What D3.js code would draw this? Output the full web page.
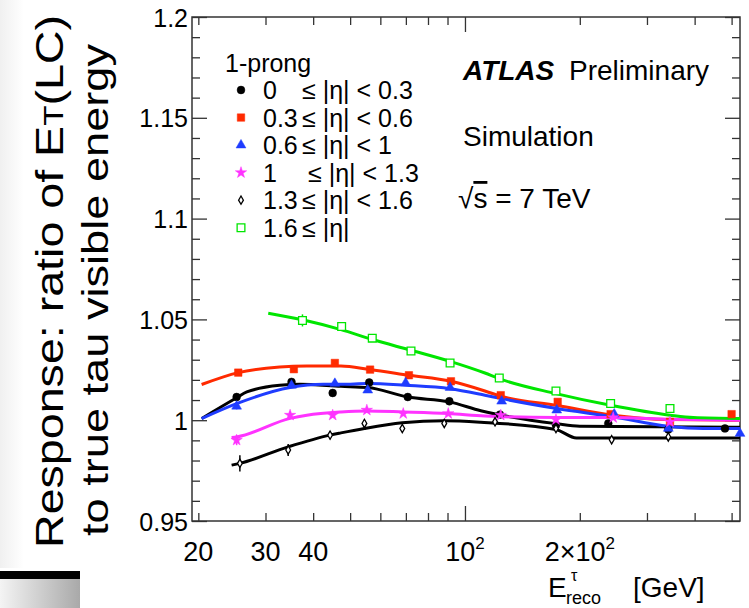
<!DOCTYPE html>
<html><head><meta charset="utf-8">
<script src="https://cdn.jsdelivr.net/npm/d3@7"></script>
<style>
body{margin:0;background:#fff}
svg{display:block}
text{font-family:"Liberation Sans",Arial,Helvetica,sans-serif;fill:#000}
</style>
</head><body>
<svg id="c" width="749" height="608"></svg>
<script>
// ---------- data ----------
const seriesNames = ["0 ≤|η|< 0.3","0.3 ≤|η|< 0.6","0.6 ≤|η|< 1","1 ≤|η|< 1.3","1.3 ≤|η|< 1.6","1.6 ≤|η|"];
const legendLead = ["0","0.3","0.6","1","1.3","1.6"];
const legendRest = ["≤ |η| < 0.3","≤ |η| < 0.6","≤ |η| < 1","≤ |η| < 1.3","≤ |η| < 1.6","≤ |η|"];

// points (E_reco [GeV], response) and errors
const xA = [25.2, 35.1, 45.0, 56.1, 70.8, 91.0, 123.5, 173.2, 237.5, 341.2, 480.3];
const yA = [1.0115, 1.0190, 1.0135, 1.0187, 1.0115, 1.0094, 1.0028, 0.9975, 0.9984, 0.9954, 0.9959];
const eA = [0.0015, 0.0012, 0.0010, 0.0012, 0.0010, 0.0010, 0.0010, 0.0010, 0.0012, 0.0012, 0.0012];

const xB = [25.45, 35.6, 45.6, 56.4, 71.3, 91.9, 124.1, 175.0, 240.9, 344.7, 500.0];
const yB = [1.0236, 1.0253, 1.0284, 1.0251, 1.0223, 1.0193, 1.0124, 1.0091, 1.0030, 0.9992, 1.0030];
const eB = [0.0012, 0.0010, 0.0010, 0.0012, 0.0010, 0.0010, 0.0010, 0.0010, 0.0012, 0.0012, 0.0012];

const xC = [25.2, 35.1, 45.6, 55.6, 69.9, 91.4, 124.8, 174.0, 246.2, 341.2, 526.0];
const yC = [1.0069, 1.0173, 1.0182, 1.0149, 1.0185, 1.0162, 1.0094, 1.0050, 1.0030, 0.9959, 0.9934];
const eC = [0.0015, 0.0012, 0.0010, 0.0012, 0.0010, 0.0010, 0.0010, 0.0010, 0.0012, 0.0012, 0.0012];

const xD = [25.2, 34.8, 45.0, 55.3, 68.9, 90.4, 124.1, 173.2, 244.7, 344.7];
const yD = [0.9901, 1.0025, 1.0025, 1.0050, 1.0033, 1.0033, 1.0025, 1.0003, 1.0013, 0.9992];
const eD = [0.0025, 0.0020, 0.0012, 0.0012, 0.0010, 0.0010, 0.0010, 0.0010, 0.0012, 0.0012];

const xE = [25.7, 34.4, 44.3, 54.5, 68.5, 88.25, 119.9, 173.2, 242.4, 341.2];
const yE = [0.9786, 0.9852, 0.9926, 0.9984, 0.9959, 0.9984, 0.9992, 0.9959, 0.9903, 0.9917];
const eE = [0.0040, 0.0030, 0.0020, 0.0018, 0.0015, 0.0015, 0.0012, 0.0012, 0.0015, 0.0015];

const xF = [37.5, 47.5, 57.15, 72.2, 91.4, 123.0, 173.2, 240.9, 344.7];
const yF = [1.0495, 1.0465, 1.0407, 1.0343, 1.0284, 1.0209, 1.0145, 1.0083, 1.0058];
const eF = [0.0030, 0.0015, 0.0012, 0.0010, 0.0010, 0.0010, 0.0010, 0.0010, 0.0012];

// fitted curves
const fAx = [20.4, 25.2, 26.8, 32.7, 36.9, 47.3, 55.6, 70.8, 91.0, 110, 173.2, 200, 526];
const fAy = [1.0008, 1.0111, 1.0140, 1.0173, 1.0178, 1.0168, 1.0162, 1.0115, 1.0091, 1.0047, 0.9983, 0.9970, 0.9965];
const fBx = [20.4, 25.45, 32.7, 38.5, 47.3, 56.4, 71.3, 91.9, 112.8, 124.1, 175, 241, 345, 526];
const fBy = [1.0177, 1.0236, 1.0264, 1.0269, 1.0269, 1.0251, 1.0223, 1.0193, 1.0145, 1.0119, 1.0073, 1.0026, 1.0003, 1.0000];
const fCx = [20.4, 25.2, 34.8, 42.5, 47.3, 55.6, 69.9, 91.4, 112.8, 124.8, 174, 246, 341, 421, 526];
const fCy = [1.0008, 1.0082, 1.0162, 1.0178, 1.0178, 1.0182, 1.0173, 1.0156, 1.0124, 1.0107, 1.0058, 1.0016, 0.9970, 0.9959, 0.9959];
const fDx = [24.45, 25.2, 34.8, 38.5, 47.3, 55.3, 68.9, 90.4, 112.8, 174, 241, 345, 526];
const fDy = [0.9914, 0.9917, 1.0009, 1.0025, 1.0041, 1.0046, 1.0041, 1.0033, 1.0021, 1.0013, 1.0013, 1.0005, 1.0000];
const fEx = [24.45, 25.7, 34.4, 44.3, 47.3, 54.5, 68.5, 88.25, 110, 173.2, 196, 526];
const fEy = [0.9777, 0.9786, 0.9868, 0.9926, 0.9937, 0.9959, 0.9987, 0.9997, 0.9990, 0.9954, 0.9912, 0.9912];
const fFx = [30.5, 37.5, 47.3, 57.15, 72.2, 91.4, 112.8, 123, 173.2, 240.9, 344.7, 396.7, 526];
const fFy = [1.0531, 1.0498, 1.0449, 1.0400, 1.0347, 1.0292, 1.0234, 1.0206, 1.0132, 1.0074, 1.0025, 1.0013, 1.0008];

// axis ticks
const xMinorTicks = [20,30,40,50,60,70,80,90,200,300,400,500];
const xMajorTicks = [100];
const xTickLabels = [{v:20,t:"20"},{v:30,t:"30"},{v:40,t:"40"},{v:100,t:"10",sup:"2"},{v:200,t:"2×10",sup:"2"}];
const yMajorTicks = [0.95,1.0,1.05,1.1,1.15,1.2];
const yMinorTicks = [0.96,0.97,0.98,0.99,1.01,1.02,1.03,1.04,1.06,1.07,1.08,1.09,1.11,1.12,1.13,1.14,1.16,1.17,1.18,1.19];

// ---------- chart ----------
const svg = d3.select("#c");
const x = d3.scaleLog().domain([19.25, 526]).range([192, 740]);
const y = d3.scaleLinear().domain([0.95, 1.2]).range([521, 17]);

// slide decorations
const defs = svg.append("defs");
const g1 = defs.append("linearGradient").attr("id","boxg").attr("x1","0").attr("x2","1").attr("y1","0").attr("y2","0");
g1.append("stop").attr("offset","0").attr("stop-color","#f4f4f4");
g1.append("stop").attr("offset","1").attr("stop-color","#a9a9a9");
const g2 = defs.append("linearGradient").attr("id","leftg").attr("x1","0").attr("x2","1").attr("y1","0").attr("y2","0");
g2.append("stop").attr("offset","0").attr("stop-color","#f0f0f0");
g2.append("stop").attr("offset","1").attr("stop-color","#ffffff");
svg.append("rect").attr("x",0).attr("y",0).attr("width",24).attr("height",568).attr("fill","url(#leftg)");
svg.append("rect").attr("x",0).attr("y",571).attr("width",80).attr("height",8).attr("fill","#000");
svg.append("rect").attr("x",0).attr("y",579).attr("width",80).attr("height",29).attr("fill","url(#boxg)");

// axes ticks
const axCol = "#333";
function styleAxis(g){ g.select(".domain").remove(); g.selectAll("line").attr("stroke",axCol).attr("stroke-width",1.3); }
svg.append("g").attr("transform","translate(0,521)").call(d3.axisBottom(x).tickValues(xMinorTicks).tickSizeInner(-8).tickSizeOuter(0).tickFormat("")).call(styleAxis);
svg.append("g").attr("transform","translate(0,521)").call(d3.axisBottom(x).tickValues(xMajorTicks).tickSizeInner(-15).tickSizeOuter(0).tickFormat("")).call(styleAxis);
svg.append("g").attr("transform","translate(0,17)").call(d3.axisTop(x).tickValues(xMinorTicks).tickSizeInner(-8).tickSizeOuter(0).tickFormat("")).call(styleAxis);
svg.append("g").attr("transform","translate(0,17)").call(d3.axisTop(x).tickValues(xMajorTicks).tickSizeInner(-15).tickSizeOuter(0).tickFormat("")).call(styleAxis);

svg.append("g").attr("transform","translate(192,0)").call(d3.axisLeft(y).tickValues(yMinorTicks).tickSizeInner(-8).tickSizeOuter(0).tickFormat("")).call(styleAxis);
const yl = svg.append("g").attr("transform","translate(192,0)").call(d3.axisLeft(y).tickValues(yMajorTicks).tickSizeInner(-15).tickSizeOuter(0).tickPadding(4).tickFormat(d => String(+d.toFixed(2)))).call(styleAxis);
yl.attr("font-size",null).attr("font-family",null);
yl.selectAll("text").attr("font-size",25).attr("fill","#000").attr("dy","0.36em");
svg.append("g").attr("transform","translate(740,0)").call(d3.axisRight(y).tickValues(yMinorTicks).tickSizeInner(-8).tickSizeOuter(0).tickFormat("")).call(styleAxis);
svg.append("g").attr("transform","translate(740,0)").call(d3.axisRight(y).tickValues(yMajorTicks).tickSizeInner(-15).tickSizeOuter(0).tickFormat("")).call(styleAxis);

// frame
svg.append("rect").attr("x",192).attr("y",17).attr("width",548).attr("height",504)
  .attr("fill","none").attr("stroke",axCol).attr("stroke-width",1.5);

// x tick labels
const xt = svg.append("g").selectAll("text").data(xTickLabels).join("text")
  .attr("x", d => x(d.v)).attr("y", 561).attr("text-anchor","middle").attr("font-size",27);
xt.append("tspan").text(d => d.t);
xt.filter(d => d.sup).append("tspan").attr("font-size",17).attr("dy",-12).text(d => d.sup);

// x axis title
svg.append("text").attr("x",548).attr("y",597).attr("font-size",28).text("E");
svg.append("text").attr("x",571).attr("y",581).attr("font-size",16).text("τ");
svg.append("text").attr("x",566).attr("y",604).attr("font-size",18).text("reco");
svg.append("text").attr("x",633).attr("y",597).attr("font-size",28).text("[GeV]");

// y axis title
const yt1 = svg.append("text").attr("transform","translate(63,548) rotate(-90)")
  .attr("font-family","DejaVu Sans").attr("font-size",38).attr("textLength",533).attr("lengthAdjust","spacingAndGlyphs");
yt1.append("tspan").text("Response: ratio of E");
yt1.append("tspan").attr("font-size",27).text("T");
yt1.append("tspan").text("(LC)");
svg.append("text").attr("transform","translate(108,536) rotate(-90)")
  .attr("font-family","DejaVu Sans").attr("font-size",36).attr("textLength",492).attr("lengthAdjust","spacingAndGlyphs")
  .text("to true tau visible energy");

// series
const series = [
  {name: seriesNames[0], xs:xA, ys:yA, es:eA, fx:fAx, fy:fAy, color:"#000000", sym:d3.symbolCircle, size:48, open:false},
  {name: seriesNames[1], xs:xB, ys:yB, es:eB, fx:fBx, fy:fBy, color:"#ff2a00", sym:d3.symbolSquare, size:56, open:false},
  {name: seriesNames[2], xs:xC, ys:yC, es:eC, fx:fCx, fy:fCy, color:"#1f3cff", sym:d3.symbolTriangle, size:42, open:false},
  {name: seriesNames[3], xs:xD, ys:yD, es:eD, fx:fDx, fy:fDy, color:"#ff33ff", sym:d3.symbolStar, size:40, open:false},
  {name: seriesNames[4], xs:xE, ys:yE, es:eE, fx:fEx, fy:fEy, color:"#000000", sym:d3.symbolDiamond, size:20, open:true},
  {name: seriesNames[5], xs:xF, ys:yF, es:eF, fx:fFx, fy:fFy, color:"#00e600", sym:d3.symbolSquare, size:60, open:true}
];

const line = d3.line().x(d => x(d[0])).y(d => y(d[1])).curve(d3.curveMonotoneX);
const plot = svg.append("g");
series.forEach(s => {
  const pts = s.fx.map((v,i) => [v, s.fy[i]]);
  plot.append("path").attr("d", line(pts)).attr("fill","none").attr("stroke", s.color).attr("stroke-width",3);
});
series.forEach(s => {
  const pts = s.xs.map((v,i) => ({x:v, y:s.ys[i], e:s.es[i]}));
  const g = plot.append("g");
  g.selectAll("line.err").data(pts).join("line").attr("class","err")
    .attr("x1", d => x(d.x)).attr("x2", d => x(d.x))
    .attr("y1", d => y(d.y + d.e)).attr("y2", d => y(d.y - d.e))
    .attr("stroke", s.color).attr("stroke-width",1.5);
  g.selectAll("path").data(pts).join("path")
    .attr("d", d3.symbol(s.sym, s.size)())
    .attr("transform", d => `translate(${x(d.x)},${y(d.y)})`)
    .attr("fill", s.open ? "#fff" : s.color)
    .attr("stroke", s.color).attr("stroke-width", s.open ? 1.3 : 0.5);
});

// legend
const leg = svg.append("g");
leg.append("text").attr("x",225).attr("y",72).attr("font-size",25).text("1-prong");
const rowY = d3.scaleLinear().domain([0,5]).range([90,227.7]);
series.forEach((s,i) => {
  leg.append("path").attr("d", d3.symbol(s.sym, s.size)())
    .attr("transform", `translate(241,${rowY(i)})`)
    .attr("fill", s.open ? "#fff" : s.color).attr("stroke", s.color).attr("stroke-width", s.open ? 1.3 : 0.5);
  const t = leg.append("text").attr("y", rowY(i) + 9).attr("font-size",25);
  t.append("tspan").attr("x",263).text(legendLead[i]);
  t.append("tspan").attr("x", i === 3 ? 308 : 302).text(legendRest[i]);
});

// labels
const lab = svg.append("g");
const at = lab.append("text").attr("x",463).attr("y",80).attr("font-size",28);
at.append("tspan").attr("font-weight","bold").attr("font-style","italic").text("ATLAS");
at.append("tspan").attr("x",569).text("Preliminary");
lab.append("text").attr("x",463).attr("y",146).attr("font-size",28).text("Simulation");
const rs = lab.append("text").attr("x",458).attr("y",208).attr("font-size",28);
rs.append("tspan").text("√");
rs.append("tspan").attr("text-decoration","overline").text("s");
rs.append("tspan").text(" = 7 TeV");
</script>
</body></html>
